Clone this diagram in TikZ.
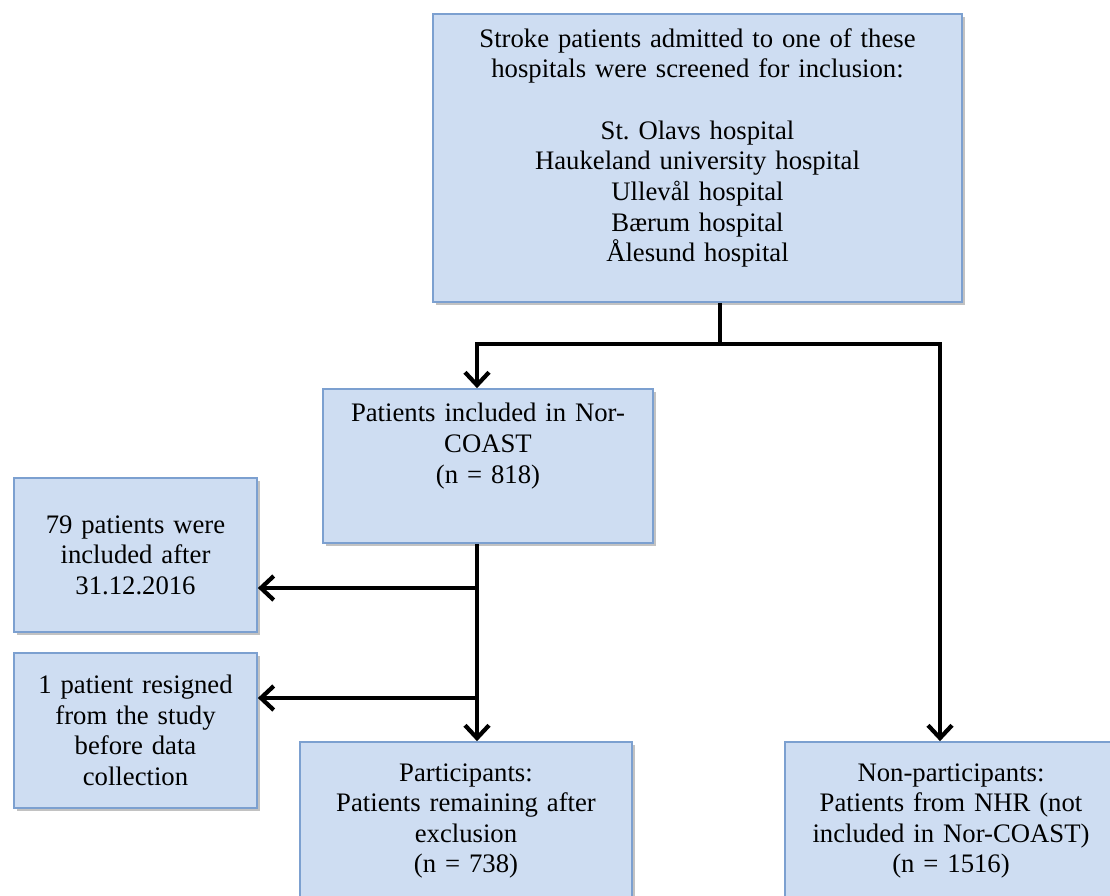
\documentclass[tikz,border=0pt]{standalone}
\usepackage{fontspec}
\setmainfont{Liberation Serif}
\usepackage{tikz}
\usetikzlibrary{arrows.meta,shadows}
\definecolor{boxfill}{RGB}{206,221,242}
\definecolor{boxline}{RGB}{124,160,208}
\tikzset{
    box/.style={draw=boxline, fill=boxfill, line width=1.2pt, align=center, inner sep=0.2cm,
        font=\fontsize{19}{21.8}\selectfont,
        drop shadow={shadow xshift=1.8pt, shadow yshift=-1.8pt, opacity=0.4, fill=black!60}},
    line/.style={black, line width=3pt, line join=miter},
    arrow/.style={line, -{Straight Barb[length=0.32cm, width=0.6cm]}}
}
\newcommand{\upshift}[1]{\par\vspace{#1}\hrule height 0pt width 0pt}
\frenchspacing
\begin{document}
\begin{tikzpicture}
        	\useasboundingbox (0,0) rectangle (27.75,-22.375);
        	\node[box, text width=12.825cm, minimum height=7.2cm] (S) at (17.4375,-3.95)
        	    {Stroke patients admitted to one of these\\hospitals were screened for inclusion:\\[21.8pt]
        	     St. Olavs hospital\\Haukeland university hospital\\Ullevål hospital\\Bærum hospital\\Ålesund hospital\upshift{0.5cm}};
        	\node[box, text width=7.85cm, minimum height=3.85cm] (I) at (12.2,-11.65)
        	    {Patients included in Nor-\\COAST\\(n = 818)\upshift{1cm}};
        	\node[box, text width=5.675cm, minimum height=3.85cm] (L) at (3.3875,-13.875)
        	    {79 patients were\\included after\\31.12.2016};
        	\node[box, text width=5.675cm, minimum height=3.875cm] (R) at (3.3875,-18.2625)
        	    {1 patient resigned\\from the study\\before data\\collection};
        	\node[box, text width=7.9cm, minimum height=3.95cm] (P) at (11.65,-20.525)
        	    {Participants:\\Patients remaining after\\exclusion\\(n = 738)};
        	\node[box, text width=7.9cm, minimum height=3.95cm] (N) at (23.775,-20.525)
        	    {Non-participants:\\Patients from NHR (not\\included in Nor-COAST)\\(n = 1516)};
        	\coordinate (split) at (18,-8.6);
        	\coordinate (left) at (11.925,-8.6);
        	\coordinate (right) at (23.5,-8.6);
        	\coordinate (b1) at (11.925,-14.7);
        	\coordinate (b2) at (11.925,-17.45);
        	\draw[line] (S.south -| split) -- (split);
        	\draw[arrow] (split) -- (left) -- (left |- I.north);
        	\draw[arrow] (split) -- (right) -- (right |- N.north);
        	\draw[arrow] (I.south -| left) -- (left |- P.north);
        	\draw[arrow] (b1) -- (b1 -| L.east);
        	\draw[arrow] (b2) -- (b2 -| R.east);
\end{tikzpicture}
\end{document}
